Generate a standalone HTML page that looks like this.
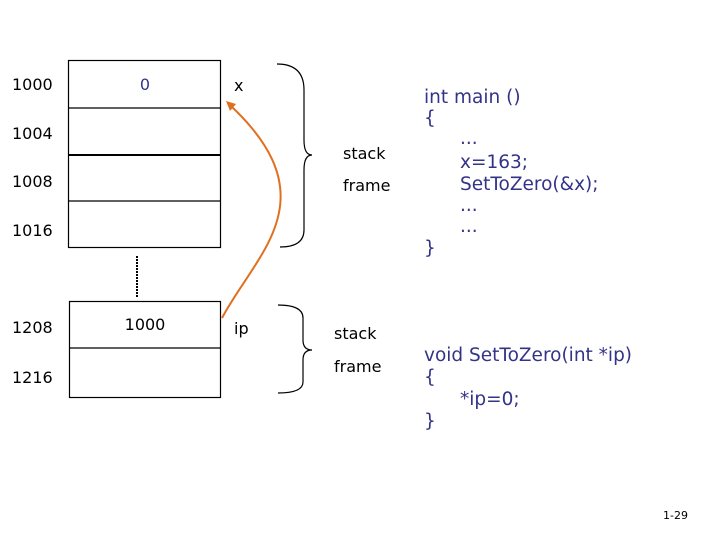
<!DOCTYPE html>
<html><head><style>
html,body{margin:0;padding:0;background:#fff;}
svg{display:block;}
text{font-family:"DejaVu Sans","Liberation Sans",sans-serif;}
.k{fill:#000;font-size:16px;}
.c{fill:#333388;font-size:18.5px;}
</style></head><body>
<svg width="720" height="540" viewBox="0 0 720 540" xmlns="http://www.w3.org/2000/svg">
<g fill="none" stroke="#000" stroke-width="1.2">
<rect x="68.5" y="60.5" width="152" height="187"/>
<line x1="68" y1="108" x2="221" y2="108"/>
<line x1="68" y1="155" x2="221" y2="155" stroke-width="2"/>
<line x1="68" y1="201" x2="221" y2="201"/>
<rect x="69.5" y="301.5" width="151" height="96"/>
<line x1="69" y1="348" x2="221" y2="348"/>
<line x1="137" y1="256" x2="137" y2="297" stroke-dasharray="2,1" stroke-width="2"/>
<path d="M277,64 Q304,64 304,90 L304,140 Q304,155 312,155 Q304,155 304,170 L304,230 Q304,247 280,247"/>
<path d="M278,305 Q303,305 303,318 L303,340 Q303,350 312,350 Q303,350 303,360 L303,382 Q303,393 278,393"/>
</g>
<path d="M222,318 C255,255 330,200 232,107" fill="none" stroke="#e07020" stroke-width="2"/>
<polygon points="226,101 236,104 230,111" fill="#e07020"/>
<g class="k">
<text x="12" y="90">1000</text>
<text x="12" y="139">1004</text>
<text x="12" y="187">1008</text>
<text x="12" y="236">1016</text>
<text x="12" y="333">1208</text>
<text x="12" y="383">1216</text>
<text x="145" y="330" text-anchor="middle">1000</text>
<text x="234" y="91">x</text>
<text x="234" y="334">ip</text>
<text x="343" y="159">stack</text>
<text x="343" y="191">frame</text>
<text x="334" y="339">stack</text>
<text x="334" y="372">frame</text>
</g>
<text x="145" y="90" text-anchor="middle" fill="#333388" font-size="16">0</text>
<g class="c">
<text x="424" y="103">int main ()</text>
<text x="424" y="124">{</text>
<text x="460" y="144">...</text>
<text x="460" y="168">x=163;</text>
<text x="460" y="190">SetToZero(&amp;x);</text>
<text x="460" y="211">...</text>
<text x="460" y="232">...</text>
<text x="424" y="254">}</text>
<text x="424" y="361">void SetToZero(int *ip)</text>
<text x="424" y="383">{</text>
<text x="460" y="405">*ip=0;</text>
<text x="424" y="427">}</text>
</g>
<text x="663" y="519" font-size="11" fill="#000">1-29</text>
</svg>
</body></html>
